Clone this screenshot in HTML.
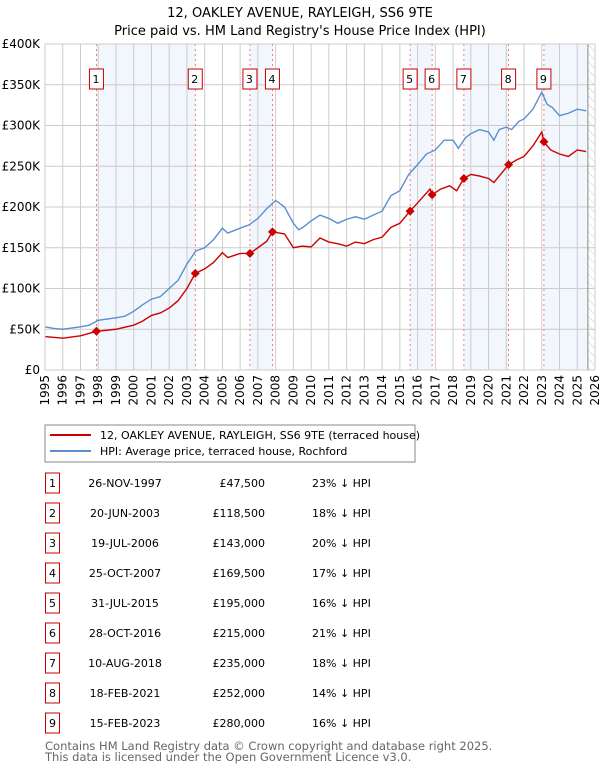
<!DOCTYPE html>
<html><head><meta charset="utf-8"><style>
body{margin:0;background:#fff;font-family:"DejaVu Sans","Liberation Sans",sans-serif;}
svg text{font-family:"DejaVu Sans","Liberation Sans",sans-serif;}
</style></head><body>
<svg id="c" width="600" height="770" xmlns="http://www.w3.org/2000/svg">
<defs><pattern id="hatch" width="6" height="6" patternUnits="userSpaceOnUse" patternTransform="rotate(-45)"><line x1="0" y1="0" x2="0" y2="6" stroke="#ccc" stroke-width="1"/></pattern></defs>
<text x="300" y="17" text-anchor="middle" font-size="13">12, OAKLEY AVENUE, RAYLEIGH, SS6 9TE</text>
<text x="300" y="35" text-anchor="middle" font-size="13">Price paid vs. HM Land Registry's House Price Index (HPI)</text>
<g id="plot"></g>
<rect x="45" y="425" width="370" height="37" fill="#fff" stroke="#888"/>
<line x1="50" y1="435" x2="91" y2="435" stroke="#cc0000" stroke-width="2"/>
<text x="100" y="439" font-size="11">12, OAKLEY AVENUE, RAYLEIGH, SS6 9TE (terraced house)</text>
<line x1="50" y1="451" x2="91" y2="451" stroke="#5b8fd1" stroke-width="2"/>
<text x="100" y="455" font-size="11">HPI: Average price, terraced house, Rochford</text>
<g id="table"></g>
<text x="45" y="750" font-size="11.5" fill="#666">Contains HM Land Registry data © Crown copyright and database right 2025.</text>
<text x="45" y="761" font-size="11.5" fill="#666">This data is licensed under the Open Government Licence v3.0.</text>
</svg>
<script>
const hpiT=[1995,1995.5,1996,1997,1997.5,1998,1999,1999.5,2000,2000.5,2001,2001.5,2002,2002.5,2003,2003.5,2004,2004.5,2005,2005.3,2006,2006.5,2007,2007.5,2008,2008.5,2009,2009.3,2009.6,2010,2010.5,2011,2011.5,2012,2012.5,2013,2013.5,2014,2014.5,2015,2015.5,2016,2016.5,2017,2017.5,2018,2018.3,2018.7,2019,2019.5,2020,2020.3,2020.6,2021,2021.3,2021.7,2022,2022.5,2023,2023.3,2023.6,2024,2024.5,2025,2025.5];
const hpiV=[53,51,50,53,55,61,64,66,72,80,87,90,100,110,130,146,150,160,174,168,174,178,186,198,208,200,180,172,176,183,190,186,180,185,188,185,190,195,214,220,240,252,265,270,282,282,272,285,290,295,292,282,295,298,295,305,308,320,341,326,322,312,315,320,318];
const priceT=[1995,1996,1997,1997.9,1999,2000,2000.5,2001,2001.5,2002,2002.5,2003,2003.47,2004,2004.5,2005,2005.3,2006,2006.55,2007,2007.5,2007.82,2008.5,2009,2009.5,2010,2010.5,2011,2011.5,2012,2012.5,2013,2013.5,2014,2014.5,2015,2015.58,2016,2016.7,2016.82,2017.3,2017.8,2018.2,2018.61,2019,2019.5,2020,2020.3,2021.13,2021.6,2022,2022.5,2023,2023.12,2023.5,2024,2024.5,2025,2025.5];
const priceV=[41,39,42,47.5,50,55,60,67,70,76,85,100,118.5,124,132,144,138,143,143,150,158,169.5,167,150,152,151,162,157,155,152,157,155,160,163,175,180,195,205,222,215,222,226,220,235,240,238,235,230,252,258,262,275,292,280,270,265,262,270,268];
const saleT=[1997.9,2003.47,2006.55,2007.82,2015.58,2016.82,2018.61,2021.13,2023.12];
const saleV=[47.5,118.5,143,169.5,195,215,235,252,280];
const saleDates=["26-NOV-1997","20-JUN-2003","19-JUL-2006","25-OCT-2007","31-JUL-2015","28-OCT-2016","10-AUG-2018","18-FEB-2021","15-FEB-2023"];
const salePrices=["£47,500","£118,500","£143,000","£169,500","£195,000","£215,000","£235,000","£252,000","£280,000"];
const salePct=["23%","18%","20%","17%","16%","21%","18%","14%","16%"];
const yTicks=[0,50,100,150,200,250,300,350,400];
const yLabels=["£0","£50K","£100K","£150K","£200K","£250K","£300K","£350K","£400K"];
const xYears=[1995,1996,1997,1998,1999,2000,2001,2002,2003,2004,2005,2006,2007,2008,2009,2010,2011,2012,2013,2014,2015,2016,2017,2018,2019,2020,2021,2022,2023,2024,2025,2026];
const dataEnd=2025.6;
const NS="http://www.w3.org/2000/svg";
const X0=45,X1=595,Y0=370,Y1=44;
const x=t=>X0+(t-1995)/(2026-1995)*(X1-X0);
const y=v=>Y0-v/400*(Y0-Y1);
const plot=document.getElementById('plot');
function mk(tag,a,p){const e=document.createElementNS(NS,tag);for(const k in a)e.setAttribute(k,a[k]);(p||plot).appendChild(e);return e;}
const bands=[[0,1],[2,3],[4,5],[6,7],[8,-1]];
bands.forEach((b,i)=>{const a=x(saleT[b[0]]),e=b[1]<0?x(dataEnd):x(saleT[b[1]]);
const r=mk('rect',{x:a,y:Y1,width:e-a,height:Y0-Y1,fill:'#f2f6fd'});

});
const h=mk('rect',{x:x(dataEnd),y:Y1,width:X1-x(dataEnd),height:Y0-Y1,fill:'url(#hatch)'});


xYears.forEach(t=>{const l=mk('line',{x1:x(t),x2:x(t),y1:Y1,y2:Y0,stroke:'#ccc','stroke-width':1});


const tx=mk('text',{x:0,y:0,'font-size':12,'text-anchor':'end',transform:`translate(${x(t)+4},${Y0+5}) rotate(-90)`});
tx.textContent=t;

});
yTicks.forEach((v,i)=>{const l=mk('line',{x1:X0,x2:X1,y1:y(v),y2:y(v),stroke:'#ccc','stroke-width':1});


const tx=mk('text',{x:X0-5,y:y(v)+4,'font-size':12,'text-anchor':'end'});
tx.textContent=yLabels[i];

});
const dl=mk('line',{x1:x(dataEnd),x2:x(dataEnd),y1:Y1,y2:Y0,stroke:'#888','stroke-width':1});


saleT.forEach((t,i)=>{const l=mk('line',{x1:x(t),x2:x(t),y1:Y1,y2:Y0,stroke:'#f06060','stroke-width':0.8,'stroke-dasharray':'2,3'});


const r=mk('rect',{x:x(t)-7,y:69,width:14,height:20,fill:'#fff',stroke:'#c00'});


const tx=mk('text',{x:x(t)-0.5,y:83,'font-size':11,'text-anchor':'middle'});
tx.textContent=i+1;

});
const hp=mk('polyline',{points:hpiT.map((t,i)=>x(t)+','+y(hpiV[i])).join(' '),fill:'none',stroke:'#5b8fd1','stroke-width':1.4});


const pp=mk('polyline',{points:priceT.map((t,i)=>x(t)+','+y(priceV[i])).join(' '),fill:'none',stroke:'#cc0000','stroke-width':1.4});


saleT.forEach((t,i)=>{const cx=x(t),cy=y(saleV[i]);
const d=mk('polygon',{points:`${cx},${cy-4.5} ${cx+4.5},${cy} ${cx},${cy+4.5} ${cx-4.5},${cy}`,fill:'#cc0000'});

});
mk('rect',{x:X0,y:Y1,width:X1-X0,height:Y0-Y1,fill:'none',stroke:'#ccc'});
const tb=document.getElementById('table');
saleT.forEach((t,i)=>{const cy=483+i*30;
const r=mk('rect',{x:45.5,y:cy-10,width:14,height:20,fill:'#fff',stroke:'#c00'},tb);


const n=mk('text',{x:52.5,y:cy+4,'font-size':11,'text-anchor':'middle'},tb);n.textContent=i+1;


const d=mk('text',{x:125,y:cy+4,'font-size':11,'text-anchor':'middle'},tb);d.textContent=saleDates[i];


const p=mk('text',{x:265,y:cy+4,'font-size':11,'text-anchor':'end'},tb);p.textContent=salePrices[i];


const q=mk('text',{x:312,y:cy+4,'font-size':11},tb);q.textContent=salePct[i]+' ↓ HPI';

});
</script>
</body></html>
